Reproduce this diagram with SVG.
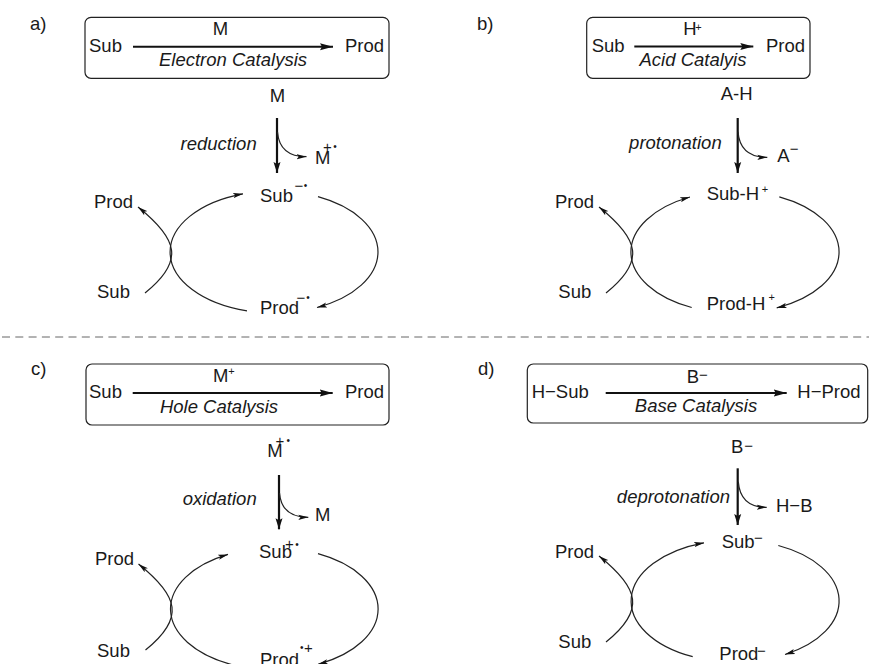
<svg xmlns="http://www.w3.org/2000/svg" width="869" height="664" viewBox="0 0 869 664">
<style>
text{font-family:"Liberation Sans",Arial,sans-serif;font-size:18.5px;fill:#1a1a1a}
.i{font-style:italic}
.m{text-anchor:middle}
.e{text-anchor:end}
.sup{font-size:15px;dominant-baseline:central;text-anchor:middle}
.sp{font-size:11px;dominant-baseline:central;text-anchor:middle}
.dot{font-size:10px;dominant-baseline:central;text-anchor:middle}
.box{fill:none;stroke:#222;stroke-width:1.2}
.arc{fill:none;stroke:#222;stroke-width:1.2;marker-end:url(#ma)}
.sm{fill:none;stroke:#222;stroke-width:1.2;marker-end:url(#ms)}
.hz{fill:none;stroke:#111;stroke-width:1.9;marker-end:url(#mh)}
.vt{fill:none;stroke:#111;stroke-width:2.2;marker-end:url(#mv)}
</style>
<defs>
<marker id="mh" markerUnits="userSpaceOnUse" markerWidth="14" markerHeight="8" refX="13" refY="4" orient="auto"><path d="M0,0.5 L13,4 L0,7.5 L2,4 z" fill="#111"/></marker>
<marker id="mv" markerUnits="userSpaceOnUse" markerWidth="12" markerHeight="8" refX="11" refY="4" orient="auto"><path d="M0,0.5 L11,4 L0,7.5 L2,4 z" fill="#111"/></marker>
<marker id="ms" markerUnits="userSpaceOnUse" markerWidth="11" markerHeight="6" refX="10" refY="3" orient="auto"><path d="M0,0.4 L10,3 L0,5.6 L2.2,3 z" fill="#111"/></marker>
<marker id="ma" markerUnits="userSpaceOnUse" markerWidth="11" markerHeight="6" refX="10" refY="3" orient="auto"><path d="M0,0.4 L10,3 L0,5.6 L2.2,3 z" fill="#111"/></marker>
</defs>

<line id="divider" x1="2" y1="337" x2="869" y2="337" stroke="#666" stroke-width="1" stroke-dasharray="8 5.3"/>

<g id="labels">
<text x="30" y="30">a)</text>
<text x="477" y="30">b)</text>
<text x="31" y="375">c)</text>
<text x="478" y="375">d)</text>
</g>

<g id="connectors">
<!-- panel a -->
<path class="hz" d="M133,46.7 H333"/>
<path class="vt" d="M277,118 V173"/>
<path class="sm" d="M277.5,132 Q279.5,156.7 306.5,156.7"/>
<path class="arc" d="M247,310.9 A104,61 0 0 1 243,193.8"/>
<path class="arc" d="M318,196.7 A104,61 0 0 1 317,307.5"/>
<path class="arc" d="M145,293 C185,261 178,239 138,207"/>
<!-- panel b -->
<path class="hz" d="M634.3,46.5 H753.3"/>
<path class="vt" d="M737.7,118 V173"/>
<path class="sm" d="M738,131.7 Q740,157.3 767.3,157.3"/>
<path class="arc" d="M691.7,307.5 A104,61 0 0 1 690,197"/>
<path class="arc" d="M779.3,196.8 A104,61 0 0 1 776.7,307.9"/>
<path class="arc" d="M606,293 C646,261 639,239 599,207"/>
<!-- panel c -->
<path class="hz" d="M132.7,393 H332.7"/>
<path class="vt" d="M279,475 V529.3"/>
<path class="sm" d="M279.5,493 Q281.5,517.3 308.3,517.3"/>
<path class="arc" d="M231.5,664.5 A104,61 0 0 1 228,554.4"/>
<path class="arc" d="M318,553.7 A104,61 0 0 1 318,664.3"/>
<path class="arc" d="M145.5,650 C185.5,618 178.5,596 138.5,564"/>
<!-- panel d -->
<path class="hz" d="M605.7,393 H786.7"/>
<path class="vt" d="M737.7,468.3 V525"/>
<path class="sm" d="M738.3,481.7 Q740.3,507.3 766.7,507.3"/>
<path class="arc" d="M692.7,656.7 A104,61 0 0 1 704,542.8"/>
<path class="arc" d="M778.3,545.5 A104,61 0 0 1 785,654.5"/>
<path class="arc" d="M606,642 C646,610 639,588 599,556"/>
</g>

<!-- Panel a -->
<g id="a-box">
<rect class="box" x="85" y="17.3" width="304" height="61" rx="6"/>
<text class="m" x="220.5" y="35">M</text>
<text x="89" y="51.7">Sub</text>
<text x="345" y="51.7">Prod</text>
<text class="i m" x="233" y="66">Electron Catalysis</text>
</g>
<g id="a-M"><text class="m" x="277.5" y="101.7">M</text></g>
<g id="a-reduction"><text class="i e" x="256.7" y="150">reduction</text></g>
<g id="a-Mrad"><text x="315" y="164">M</text><text class="sup" x="327.3" y="146.7">+</text><text class="dot" x="335" y="146.7">•</text></g>
<g id="a-subrad"><text x="260" y="201.7">Sub</text><text class="sup" x="299" y="185">−</text><text class="dot" x="305.5" y="185.7">•</text></g>
<g id="a-prod"><text x="94" y="208">Prod</text></g>
<g id="a-sub"><text x="97" y="298.3">Sub</text></g>
<g id="a-prodrad"><text x="260" y="314">Prod</text><text class="sup" x="301" y="297.5">−</text><text class="dot" x="308" y="297">•</text></g>

<!-- Panel b -->
<g id="b-box">
<rect class="box" x="586.7" y="17.3" width="223.3" height="61" rx="6"/>
<text class="m" x="690" y="35">H</text><text class="sp" x="698.5" y="26.5">+</text>
<text x="591.7" y="51.7">Sub</text>
<text x="766" y="51.7">Prod</text>
<text class="i m" x="693" y="66">Acid Catalyis</text>
</g>
<g id="b-AH"><text class="m" x="736.7" y="100">A-H</text></g>
<g id="b-protonation"><text class="i e" x="721.7" y="149">protonation</text></g>
<g id="b-A"><text x="777.3" y="161.7">A</text><text class="sup" x="794.2" y="148.3">−</text></g>
<g id="b-subH"><text x="706.7" y="200">Sub-H</text><text class="sp" x="765" y="189.3">+</text></g>
<g id="b-prod"><text x="555" y="208">Prod</text></g>
<g id="b-sub"><text x="558.3" y="298.3">Sub</text></g>
<g id="b-prodH"><text x="706.7" y="309.5">Prod-H</text><text class="sp" x="771.7" y="297">+</text></g>

<!-- Panel c -->
<g id="c-box">
<rect class="box" x="86" y="364" width="303" height="61" rx="6"/>
<text x="213" y="382">M</text><text class="sp" x="231.5" y="371">+</text>
<text x="89" y="398">Sub</text>
<text x="345" y="398">Prod</text>
<text class="i m" x="219" y="412.5">Hole Catalysis</text>
</g>
<g id="c-Mrad"><text class="m" x="275" y="456.7">M</text><text class="sup" x="280" y="440.5">+</text><text class="dot" x="288.3" y="440.7">•</text></g>
<g id="c-oxidation"><text class="i e" x="256.7" y="505">oxidation</text></g>
<g id="c-M"><text x="315" y="520.7">M</text></g>
<g id="c-subrad"><text x="259" y="557.7">Sub</text><text class="sup" x="289.3" y="543.3">+</text><text class="dot" x="297" y="544">•</text></g>
<g id="c-prod"><text x="95" y="565">Prod</text></g>
<g id="c-sub"><text x="97" y="656.7">Sub</text></g>
<g id="c-prodrad"><text x="260" y="666">Prod</text><text class="dot" x="301.7" y="647.3">•</text><text class="sup" x="308.3" y="647.3">+</text></g>

<!-- Panel d -->
<g id="d-box">
<rect class="box" x="527.3" y="364" width="340.4" height="59" rx="6"/>
<text x="686.7" y="383">B</text><text class="sup" x="703.3" y="374">−</text>
<text x="531.7" y="397.5">H−Sub</text>
<text x="797.3" y="397.5">H−Prod</text>
<text class="i m" x="696" y="411.5">Base Catalysis</text>
</g>
<g id="d-B"><text x="731" y="452.7">B</text><text class="sup" x="748.7" y="445">−</text></g>
<g id="d-deprotonation"><text class="i e" x="730" y="502.7">deprotonation</text></g>
<g id="d-HB"><text x="776" y="511.7">H−B</text></g>
<g id="d-sub-anion"><text x="721.7" y="548.3">Sub</text><text class="sup" x="758.3" y="537.3">−</text></g>
<g id="d-prod"><text x="555" y="558.3">Prod</text></g>
<g id="d-sub"><text x="558.3" y="648.3">Sub</text></g>
<g id="d-prod-anion"><text x="719.3" y="660">Prod</text><text class="sup" x="761.5" y="650">−</text></g>
</svg>
